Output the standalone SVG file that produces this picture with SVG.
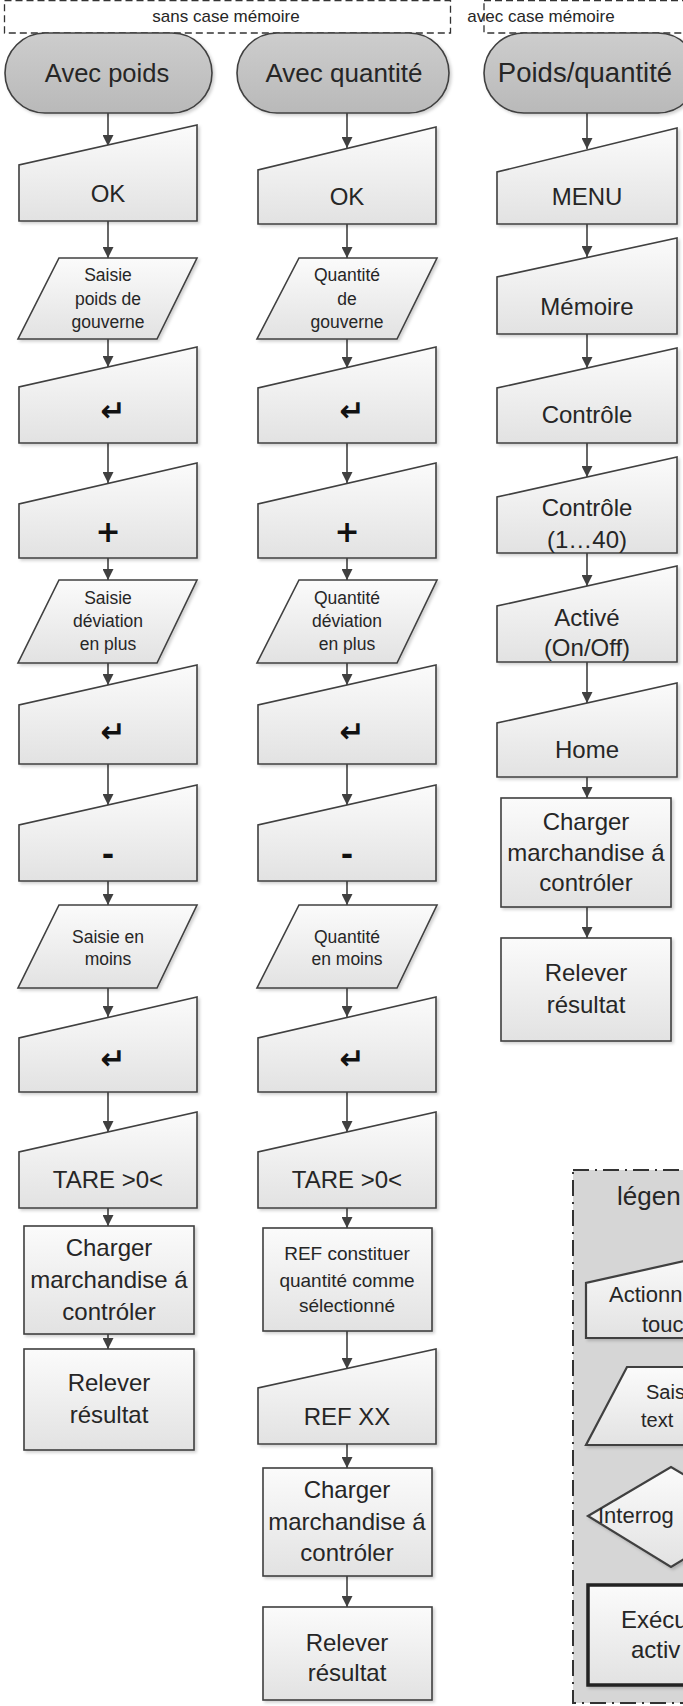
<svg xmlns="http://www.w3.org/2000/svg" width="683" height="1706" viewBox="0 0 683 1706">
<defs>
<linearGradient id="g" x1="0" y1="0" x2="0" y2="1"><stop offset="0" stop-color="#fbfbfb"/><stop offset="1" stop-color="#e2e2e2"/></linearGradient>
<linearGradient id="gt" x1="0" y1="0" x2="0" y2="1"><stop offset="0" stop-color="#cdcdcd"/><stop offset="1" stop-color="#b9b9b9"/></linearGradient>
<filter id="sh" x="-10%" y="-10%" width="130%" height="130%"><feDropShadow dx="2" dy="2" stdDeviation="1.5" flood-color="#000" flood-opacity="0.18"/></filter>
<marker id="a" markerUnits="userSpaceOnUse" markerWidth="11" markerHeight="11" refX="11" refY="5.5" orient="auto"><path d="M0,0 L11,5.5 L0,11 z" fill="#404040"/></marker>
<style>
.s{fill:url(#g);stroke:#404040;stroke-width:1.6;filter:url(#sh)}
.term{fill:url(#gt);stroke:#404040;stroke-width:1.6;filter:url(#sh)}
.t{font-family:"Liberation Sans",Arial,sans-serif;fill:#262626;text-anchor:middle}
.l{font-family:"Liberation Sans",Arial,sans-serif;fill:#262626}
.f24{font-size:24px}.f19{font-size:19px}.f17{font-size:17.5px}.f22{font-size:22px}.f20{font-size:20px}
.k{font-family:"DejaVu Sans",sans-serif;font-weight:bold;font-size:30px;fill:#111;text-anchor:middle}
.hdr{fill:none;stroke:#333;stroke-width:1.3;stroke-dasharray:7,4}
.c line{stroke:#404040;stroke-width:1.6;marker-end:url(#a)}
</style>
</defs>
<rect width="683" height="1706" fill="#fff"/>

<g id="header">
<rect class="hdr" x="4.5" y="0.7" width="446" height="32.3"/>
<text class="t" x="226" y="22" style="font-size:17px">sans case mémoire</text>
<rect class="hdr" x="484" y="0.7" width="220" height="32.3"/>
<text class="t" x="541" y="22" style="font-size:17px">avec case mémoire</text>
</g>

<g id="legend">
<rect x="573" y="1170" width="140" height="533" fill="#d6d6d6" stroke="#333" stroke-width="2" stroke-dasharray="16,6,2,6"/>
<text class="l" x="617" y="1205" style="font-size:26px">légen</text>
<path class="s" d="M586 1283 L586 1338 L720 1338 L720 1253 Z" style="stroke-width:2.2"/>
<text class="l f22" x="609" y="1302">Actionn</text>
<text class="l f22" x="642" y="1332">touc</text>
<path class="s" d="M627 1367 L810 1367 L770 1445 L586 1445 Z" style="stroke-width:2.2"/>
<text class="l f20" x="646" y="1399">Sais</text>
<text class="l f20" x="641" y="1427">text</text>
<path class="s" d="M588 1516 L671 1467 L754 1516 L671 1567 Z" style="stroke-width:2.2"/>
<text class="l f22" x="598" y="1523">Interrog</text>
<rect class="s" x="588" y="1585" width="150" height="100" style="stroke-width:3.5;stroke:#222"/>
<text class="l f24" x="621" y="1628">Exécu</text>
<text class="l f24" x="631" y="1658">activ</text>
</g>

<g id="connectors" class="c">
<line x1="108" y1="113" x2="108" y2="146"/>
<line x1="108" y1="221" x2="108" y2="258"/>
<line x1="108" y1="339" x2="108" y2="367"/>
<line x1="108" y1="443" x2="108" y2="483"/>
<line x1="108" y1="558" x2="108" y2="580"/>
<line x1="108" y1="663" x2="108" y2="685"/>
<line x1="108" y1="764" x2="108" y2="805"/>
<line x1="108" y1="881" x2="108" y2="905"/>
<line x1="108" y1="988" x2="108" y2="1017"/>
<line x1="108" y1="1092" x2="108" y2="1132"/>
<line x1="108" y1="1208" x2="108" y2="1226"/>
<line x1="108" y1="1334" x2="108" y2="1349"/>

<line x1="347" y1="113" x2="347" y2="148"/>
<line x1="347" y1="224" x2="347" y2="258"/>
<line x1="347" y1="339" x2="347" y2="368"/>
<line x1="347" y1="443" x2="347" y2="483"/>
<line x1="347" y1="558" x2="347" y2="580"/>
<line x1="347" y1="663" x2="347" y2="685"/>
<line x1="347" y1="764" x2="347" y2="805"/>
<line x1="347" y1="881" x2="347" y2="905"/>
<line x1="347" y1="988" x2="347" y2="1017"/>
<line x1="347" y1="1092" x2="347" y2="1132"/>
<line x1="347" y1="1208" x2="347" y2="1228"/>
<line x1="347" y1="1331" x2="347" y2="1369"/>
<line x1="347" y1="1444" x2="347" y2="1468"/>
<line x1="347" y1="1576" x2="347" y2="1607"/>

<line x1="587" y1="113" x2="587" y2="149"/>
<line x1="587" y1="224" x2="587" y2="257"/>
<line x1="587" y1="334" x2="587" y2="368"/>
<line x1="587" y1="443" x2="587" y2="477"/>
<line x1="587" y1="553" x2="587" y2="586"/>
<line x1="587" y1="662" x2="587" y2="703"/>
<line x1="587" y1="777" x2="587" y2="798"/>
<line x1="587" y1="907" x2="587" y2="938"/>
</g>

<!-- Column 1 -->
<g id="c1-start"><rect class="term" x="5" y="33" width="207" height="80" rx="40"/><text class="t" x="107" y="82" style="font-size:25.5px">Avec poids</text></g>
<g id="c1-ok"><path class="s" d="M19 165 L19 221 L197 221 L197 125 Z"/><text class="t f24" x="108" y="202">OK</text></g>
<g id="c1-saisie"><path class="s" d="M59 258 L197 258 L157 339 L18 339 Z"/><text class="t f17" x="108" y="281">Saisie</text><text class="t f17" x="108" y="305">poids de</text><text class="t f17" x="108" y="328">gouverne</text></g>
<g id="c1-enter1"><path class="s" d="M19 387 L19 443 L197 443 L197 347 Z"/><text class="k" x="113" y="421">↵</text></g>
<g id="c1-plus"><path class="s" d="M19 504 L19 558 L197 558 L197 463 Z"/><text class="k" x="108" y="542">+</text></g>
<g id="c1-devplus"><path class="s" d="M59 580 L197 580 L157 663 L18 663 Z"/><text class="t f17" x="108" y="604">Saisie</text><text class="t f17" x="108" y="627">déviation</text><text class="t f17" x="108" y="650">en plus</text></g>
<g id="c1-enter2"><path class="s" d="M19 705 L19 764 L197 764 L197 665 Z"/><text class="k" x="113" y="742">↵</text></g>
<g id="c1-minus"><path class="s" d="M19 825 L19 881 L197 881 L197 785 Z"/><text class="k" x="108" y="865">-</text></g>
<g id="c1-devmoins"><path class="s" d="M59 905 L197 905 L157 988 L18 988 Z"/><text class="t f17" x="108" y="943">Saisie en</text><text class="t f17" x="108" y="965">moins</text></g>
<g id="c1-enter3"><path class="s" d="M19 1038 L19 1092 L197 1092 L197 997 Z"/><text class="k" x="113" y="1069">↵</text></g>
<g id="c1-tare"><path class="s" d="M19 1152 L19 1208 L197 1208 L197 1112 Z"/><text class="t f24" x="108" y="1188">TARE &gt;0&lt;</text></g>
<g id="c1-charger"><rect class="s" x="24" y="1226" width="170" height="108"/><text class="t f24" x="109" y="1256">Charger</text><text class="t f24" x="109" y="1288">marchandise á</text><text class="t f24" x="109" y="1320">contróler</text></g>
<g id="c1-relever"><rect class="s" x="24" y="1349" width="170" height="101"/><text class="t f24" x="109" y="1391">Relever</text><text class="t f24" x="109" y="1423">résultat</text></g>

<!-- Column 2 -->
<g id="c2-start"><rect class="term" x="237" y="33" width="212" height="80" rx="40"/><text class="t" x="344" y="82" style="font-size:26px">Avec quantité</text></g>
<g id="c2-ok"><path class="s" d="M258 170 L258 224 L436 224 L436 127 Z"/><text class="t f24" x="347" y="205">OK</text></g>
<g id="c2-quant"><path class="s" d="M299 258 L437 258 L397 339 L257 339 Z"/><text class="t f17" x="347" y="281">Quantité</text><text class="t f17" x="347" y="305">de</text><text class="t f17" x="347" y="328">gouverne</text></g>
<g id="c2-enter1"><path class="s" d="M258 388 L258 443 L436 443 L436 347 Z"/><text class="k" x="352" y="421">↵</text></g>
<g id="c2-plus"><path class="s" d="M258 504 L258 558 L436 558 L436 463 Z"/><text class="k" x="347" y="542">+</text></g>
<g id="c2-devplus"><path class="s" d="M299 580 L437 580 L397 663 L257 663 Z"/><text class="t f17" x="347" y="604">Quantité</text><text class="t f17" x="347" y="627">déviation</text><text class="t f17" x="347" y="650">en plus</text></g>
<g id="c2-enter2"><path class="s" d="M258 705 L258 764 L436 764 L436 665 Z"/><text class="k" x="352" y="742">↵</text></g>
<g id="c2-minus"><path class="s" d="M258 825 L258 881 L436 881 L436 785 Z"/><text class="k" x="347" y="865">-</text></g>
<g id="c2-devmoins"><path class="s" d="M299 905 L437 905 L397 988 L257 988 Z"/><text class="t f17" x="347" y="943">Quantité</text><text class="t f17" x="347" y="965">en moins</text></g>
<g id="c2-enter3"><path class="s" d="M258 1038 L258 1092 L436 1092 L436 997 Z"/><text class="k" x="352" y="1069">↵</text></g>
<g id="c2-tare"><path class="s" d="M258 1152 L258 1208 L436 1208 L436 1112 Z"/><text class="t f24" x="347" y="1188">TARE &gt;0&lt;</text></g>
<g id="c2-ref"><rect class="s" x="263" y="1228" width="169" height="103"/><text class="t f19" x="347" y="1260">REF constituer</text><text class="t f19" x="347" y="1287">quantité comme</text><text class="t f19" x="347" y="1312">sélectionné</text></g>
<g id="c2-refxx"><path class="s" d="M258 1388 L258 1444 L436 1444 L436 1349 Z"/><text class="t f24" x="347" y="1425">REF XX</text></g>
<g id="c2-charger"><rect class="s" x="263" y="1468" width="169" height="108"/><text class="t f24" x="347" y="1498">Charger</text><text class="t f24" x="347" y="1530">marchandise á</text><text class="t f24" x="347" y="1561">contróler</text></g>
<g id="c2-relever"><rect class="s" x="263" y="1607" width="169" height="93"/><text class="t f24" x="347" y="1651">Relever</text><text class="t f24" x="347" y="1681">résultat</text></g>

<!-- Column 3 -->
<g id="c3-start"><rect class="term" x="484" y="33" width="214" height="80" rx="40"/><text class="t" x="585" y="82" style="font-size:27.5px">Poids/quantité</text></g>
<g id="c3-menu"><path class="s" d="M497 172 L497 224 L677 224 L677 128 Z"/><text class="t f24" x="587" y="205">MENU</text></g>
<g id="c3-memoire"><path class="s" d="M497 277 L497 334 L677 334 L677 238 Z"/><text class="t f24" x="587" y="315">Mémoire</text></g>
<g id="c3-controle"><path class="s" d="M497 388 L497 443 L677 443 L677 348 Z"/><text class="t f24" x="587" y="423">Contrôle</text></g>
<g id="c3-controle40"><path class="s" d="M497 497 L497 553 L677 553 L677 457 Z"/><text class="t f24" x="587" y="516">Contrôle</text><text class="t f24" x="587" y="548">(1…40)</text></g>
<g id="c3-active"><path class="s" d="M497 606 L497 662 L677 662 L677 566 Z"/><text class="t f24" x="587" y="626">Activé</text><text class="t f24" x="587" y="656">(On/Off)</text></g>
<g id="c3-home"><path class="s" d="M497 723 L497 777 L677 777 L677 683 Z"/><text class="t f24" x="587" y="758">Home</text></g>
<g id="c3-charger"><rect class="s" x="501" y="798" width="170" height="109"/><text class="t f24" x="586" y="830">Charger</text><text class="t f24" x="586" y="861">marchandise á</text><text class="t f24" x="586" y="891">contróler</text></g>
<g id="c3-relever"><rect class="s" x="501" y="938" width="170" height="103"/><text class="t f24" x="586" y="981">Relever</text><text class="t f24" x="586" y="1013">résultat</text></g>
</svg>
